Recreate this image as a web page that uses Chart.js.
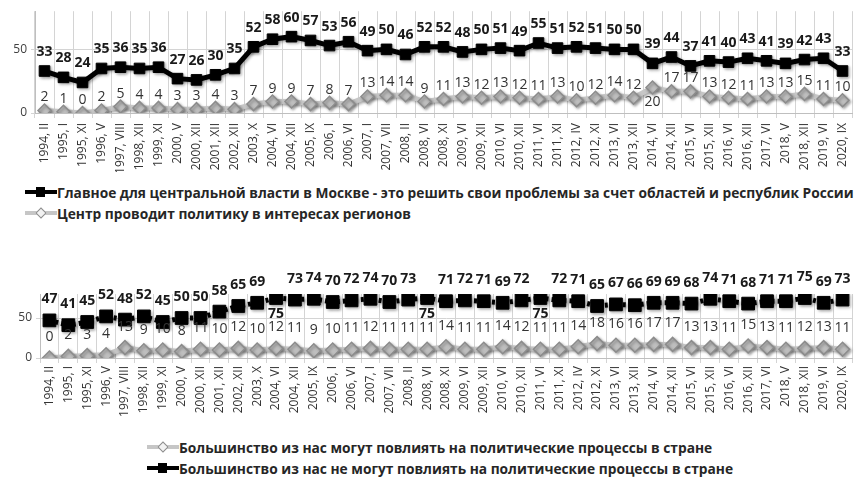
<!DOCTYPE html>
<html>
<head>
<meta charset="utf-8">
<script src="https://cdn.jsdelivr.net/npm/chart.js@4.4.0/dist/chart.umd.min.js"></script>
<style>
  body { margin: 0; background: #fff; width: 862px; height: 481px; overflow: hidden; position: relative; font-family: "Open Sans", sans-serif; }
  canvas { position: absolute; left: 0; }
  .leg { position: absolute; font-weight: bold; font-size: 13.75px; color: #262626; white-space: nowrap; display: flex; align-items: center; height: 20px; }
  .key { position: relative; width: 32px; height: 14px; }
  .key .ln { position: absolute; left: 0; right: 0; top: 5px; height: 4px; }
  .key .sq { position: absolute; left: 11px; top: 2px; width: 9px; height: 10px; background: #000; }
  .key .di { position: absolute; left: 12px; top: 3px; width: 6px; height: 6px; background: #f2f2f2; border: 1px solid #8c8c8c; transform: rotate(45deg); }
</style>
</head>
<body>
<canvas id="topChart" width="862" height="172" style="top:0"></canvas>
<canvas id="botChart" width="862" height="178" style="top:240px"></canvas>

<div class="leg" style="left:25px;top:182px"><span class="key"><span class="ln" style="background:#000"></span><span class="sq"></span></span>Главное для центральной власти в Москве - это решить свои проблемы за счет областей и республик России</div>
<div class="leg" style="left:25px;top:203px"><span class="key"><span class="ln" style="background:#c6c6c6"></span><span class="di"></span></span>Центр проводит политику в интересах регионов</div>

<div class="leg" style="left:147px;top:437px"><span class="key"><span class="ln" style="background:#c6c6c6"></span><span class="di"></span></span>Большинство из нас могут повлиять на политические процессы в стране</div>
<div class="leg" style="left:147px;top:458px"><span class="key"><span class="ln" style="background:#000"></span><span class="sq"></span></span>Большинство из нас не могут повлиять на политические процессы в стране</div>

<script>
// survey waves
const periods = [
  "1994, II", "1995, I", "1995, XI", "1996, V", "1997, VIII", "1998, XII", "1999, XI",
  "2000, V", "2000, XII", "2001, XII", "2002, XII", "2003, X", "2004, VI", "2004, XII",
  "2005, IX", "2006, I", "2006, VI", "2007, I", "2007, VII", "2008, II", "2008, VI",
  "2008, XI", "2009, VI", "2009, XII", "2010, VI", "2010, XII", "2011, VI", "2011, XI",
  "2012, IV", "2012, XI", "2013, VI", "2013, XII", "2014, VI", "2014, XII", "2015, VI",
  "2015, XII", "2016, VI", "2016, XII", "2017, VI", "2018, V", "2018, XII", "2019, VI", "2020, IX"
];

// top chart
const moscowSelfish = [33, 28, 24, 35, 36, 35, 36, 27, 26, 30, 35, 52, 58, 60, 57, 53, 56, 49, 50, 46, 52,
  52, 48, 50, 51, 49, 55, 51, 52, 51, 50, 50, 39, 44, 37, 41, 40, 43, 41, 39, 42, 43, 33];
const centerForRegions = [2, 1, 0, 2, 5, 4, 4, 3, 3, 4, 3, 7, 9, 9, 7, 8, 7, 13, 14, 14, 9,
  11, 13, 12, 13, 12, 11, 13, 10, 12, 14, 12, 20, 17, 17, 13, 12, 11, 13, 13, 15, 11, 10];

// bottom chart
const canInfluence = [0, 2, 3, 4, 13, 9, 10, 8, 11, 10, 12, 10, 12, 11, 9, 10, 11, 12, 11, 11, 11,
  14, 11, 11, 14, 12, 11, 11, 14, 18, 16, 16, 17, 17, 13, 13, 11, 15, 13, 11, 12, 13, 11];
const cannotInfluence = [47, 41, 45, 52, 48, 52, 45, 50, 50, 58, 65, 69, 75, 73, 74, 70, 72, 74, 70, 73, 75,
  71, 72, 71, 69, 72, 75, 72, 71, 65, 67, 66, 69, 69, 68, 74, 71, 68, 71, 71, 75, 69, 73];

const yTicks = [0, 50];

// draws the value above (or below) each point
const valueLabels = {
  id: 'valueLabels',
  afterDatasetsDraw(chart, args, opts) {
    const ctx = chart.ctx;
    chart.data.datasets.forEach((ds, i) => {
      const meta = chart.getDatasetMeta(i);
      const lab = opts.sets[i];
      ctx.save();
      ctx.font = lab.font;
      ctx.fillStyle = lab.color;
      ctx.textAlign = 'center';
      ctx.textBaseline = 'middle';
      meta.data.forEach((pt, j) => {
        const below = lab.below.includes(j);
        ctx.fillText(ds.data[j], pt.x, pt.y + (below ? lab.down : -lab.up));
      });
      ctx.restore();
    });
  }
};

// soft drop shadow under lines and markers
const shadow = {
  id: 'shadow',
  beforeDatasetDraw(chart) {
    const ctx = chart.ctx;
    ctx.save();
    ctx.shadowColor = 'rgba(0,0,0,0.35)';
    ctx.shadowBlur = 3;
    ctx.shadowOffsetX = 1.5;
    ctx.shadowOffsetY = 1.5;
  },
  afterDatasetDraw(chart) {
    chart.ctx.restore();
  }
};

const blackSet = (label, data, dash, r) => ({
  label, data,
  borderColor: '#000', borderWidth: 5, borderDash: dash,
  pointStyle: 'rect', pointRadius: r, pointBackgroundColor: '#000', pointBorderColor: '#000', pointBorderWidth: 1,
  tension: 0
});
const graySet = (label, data, r) => ({
  label, data,
  borderColor: '#c6c6c6', borderWidth: 5,
  pointStyle: 'rectRot', pointRadius: r, pointBackgroundColor: '#bfbfbf', pointBorderColor: '#8c8c8c', pointBorderWidth: 1.5,
  tension: 0
});

function makeChart(id, datasets, labelSets, pad, yWidth, xHeight, tickPad) {
  return new Chart(document.getElementById(id), {
    type: 'line',
    data: { labels: periods, datasets },
    options: {
      responsive: false,
      animation: false,
      layout: { padding: pad },
      plugins: { legend: { display: false }, tooltip: { enabled: false }, valueLabels: { sets: labelSets } },
      scales: {
        x: {
          offset: true,
          grid: { offset: true, color: '#d4d4d4', tickLength: 5 },
          border: { color: '#bfbfbf' },
          ticks: { autoSkip: false, minRotation: 90, maxRotation: 90, padding: tickPad, color: '#333',
                   font: { family: 'Open Sans', size: 12 } },
          afterFit: s => { s.height = xHeight; }
        },
        y: {
          min: 0, max: 80,
          afterBuildTicks: s => { s.ticks = yTicks.map(v => ({ value: v })); },
          grid: { color: '#d4d4d4', tickLength: 4 },
          border: { color: '#bfbfbf' },
          ticks: { color: '#404040', padding: 4, font: { family: 'Open Sans', size: 12 } },
          afterFit: s => { s.width = yWidth; }
        }
      }
    },
    plugins: [shadow, valueLabels]
  });
}

makeChart('topChart',
  [blackSet('Главное для центральной власти в Москве - это решить свои проблемы за счет областей и республик России', moscowSelfish, [], 7.5),
   graySet('Центр проводит политику в интересах регионов', centerForRegions, 6.5)],
  [{ font: 'bold 14px "Open Sans"', color: '#1a1a1a', up: 19, down: 16, below: [] },
   { font: '14px "Open Sans"', color: '#333', up: 13, down: 14, below: [32] }],
  { top: 11, right: 0, left: 0, bottom: 0 }, 35, 59, 5);

makeChart('botChart',
  [graySet('Большинство из нас могут повлиять на политические процессы в стране', canInfluence, 7),
   blackSet('Большинство из нас не могут повлиять на политические процессы в стране', cannotInfluence, [3, 3], 9)],
  [{ font: '14px "Open Sans"', color: '#333', up: 21, down: 16, below: [] },
   { font: 'bold 14px "Open Sans"', color: '#1a1a1a', up: 21, down: 16, below: [12, 20, 26] }],
  { top: 54, right: 2, left: 0, bottom: 0 }, 40, 60, 3);
</script>
</body>
</html>
